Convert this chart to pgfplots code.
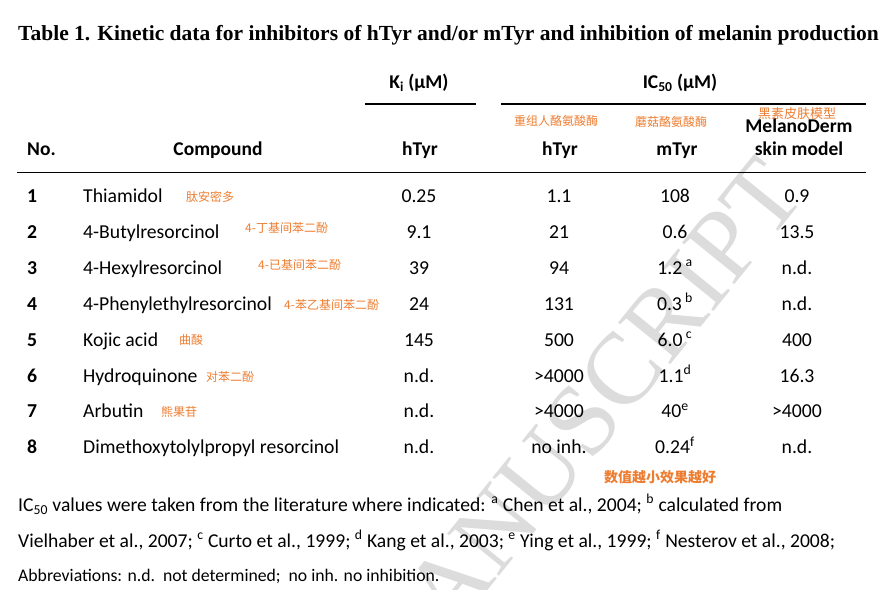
\documentclass[border=0pt]{standalone}
\usepackage{pgfplots}
\pgfplotsset{compat=1.18}
\usepackage{fontspec}
\setmainfont{Carlito}
\newfontfamily\tnr{Liberation Serif}
\newfontfamily\cjk{Noto Sans CJK SC}
\definecolor{cnor}{RGB}{237,125,49}
\definecolor{wm}{RGB}{220,220,220}
\newcommand\fs[1]{\fontsize{#1bp}{#1bp}\selectfont}
\begin{document}
\begin{tikzpicture}
\useasboundingbox (0,0) rectangle (890bp,590bp);
\begin{axis}[
  at={(0,0)}, anchor=south west,
  width=890bp, height=590bp, scale only axis,
  xmin=0, xmax=890, ymin=0, ymax=590, y dir=reverse,
  axis lines=none, clip=false,
  tablecell/.style={only marks, mark=none, nodes near coords,
     point meta=explicit symbolic,
     every node near coord/.style={inner sep=0pt, text=black, font=\fs{19.7}, anchor=base}},
]
% watermark
\node[rotate=51, anchor=base east, text=wm, font=\tnr\fs{102}, inner sep=0pt] at (axis cs:808,195) {ACCEPTED MANUSCRIPT};

% title
\node[anchor=base west, inner sep=0pt, font=\tnr\bfseries\fs{21.5}] at (axis cs:18,40) {Table 1. Kinetic data for inhibitors of hTyr and/or mTyr and inhibition of melanin production};

% group headers
\node[anchor=base, inner sep=0pt, font=\bfseries\fs{19.5}] at (axis cs:419,88) {K\textsubscript{i} (µM)};
\node[anchor=base, inner sep=0pt, font=\bfseries\fs{19.5}] at (axis cs:680,88) {IC\textsubscript{50} (µM)};
\addplot[black, line width=1.2bp] coordinates {(365,104) (476,104)};
\addplot[black, line width=1.2bp] coordinates {(501,104) (866,104)};

% chinese column notes
\node[anchor=base, inner sep=0pt, font=\cjk\fs{12}, text=cnor] at (axis cs:556,125) {重组人酪氨酸酶};
\node[anchor=base, inner sep=0pt, font=\cjk\fs{12}, text=cnor] at (axis cs:671,126) {蘑菇酪氨酸酶};
\node[anchor=base, inner sep=0pt, font=\cjk\fs{13}, text=cnor] at (axis cs:797,118) {黑素皮肤模型};

% column headers
\node[anchor=base, inner sep=0pt, font=\bfseries\fs{19.5}] at (axis cs:799,132) {MelanoDerm};
\node[anchor=base west, inner sep=0pt, font=\bfseries\fs{19.5}] at (axis cs:27,155) {No.};
\node[anchor=base, inner sep=0pt, font=\bfseries\fs{19.5}] at (axis cs:218,155) {Compound};
\node[anchor=base, inner sep=0pt, font=\bfseries\fs{19.5}] at (axis cs:420,155) {hTyr};
\node[anchor=base, inner sep=0pt, font=\bfseries\fs{19.5}] at (axis cs:560,155) {hTyr};
\node[anchor=base, inner sep=0pt, font=\bfseries\fs{19.5}] at (axis cs:677,155) {mTyr};
\node[anchor=base, inner sep=0pt, font=\bfseries\fs{19.5}] at (axis cs:799,155) {skin model};
\addplot[black, line width=1.2bp] coordinates {(17,172.5) (866,172.5)};

% No. column
\addplot[tablecell, every node near coord/.append style={anchor=base west, font=\bfseries\fs{19.7}}] coordinates {
 (27,202.5) [1] (27,238.4) [2] (27,274.3) [3] (27,310.2) [4]
 (27,346.1) [5] (27,382.0) [6] (27,417.9) [7] (27,453.8) [8]};
% Compound
\addplot[tablecell, every node near coord/.append style={anchor=base west}] coordinates {
 (83,202.5) [Thiamidol] (83,238.4) [4-Butylresorcinol] (83,274.3) [4-Hexylresorcinol]
 (83,310.2) [4-Phenylethylresorcinol] (83,346.1) [Kojic acid] (83,382.0) [Hydroquinone]
 (83,417.9) [Arbutin] (83,453.8) [Dimethoxytolylpropyl resorcinol]};
% Ki hTyr
\addplot[tablecell] coordinates {
 (419,202.5) [0.25] (419,238.4) [9.1] (419,274.3) [39] (419,310.2) [24]
 (419,346.1) [145] (419,382.0) [n.d.] (419,417.9) [n.d.] (419,453.8) [n.d.]};
% IC50 hTyr
\addplot[tablecell] coordinates {
 (559,202.5) [1.1] (559,238.4) [21] (559,274.3) [94] (559,310.2) [131]
 (559,346.1) [500] (559,382.0) [>4000] (559,417.9) [>4000] (559,453.8) [no inh.]};
% IC50 mTyr
\addplot[tablecell] coordinates {
 (675,202.5) [108] (675,238.4) [0.6] (675,274.3) [1.2\,\textsuperscript{a}] (675,310.2) [0.3\,\textsuperscript{b}]
 (675,346.1) [6.0\,\textsuperscript{c}] (675,382.0) [1.1\textsuperscript{d}] (675,417.9) [40\textsuperscript{e}] (675,453.8) [0.24\textsuperscript{f}]};
% MelanoDerm
\addplot[tablecell] coordinates {
 (797,202.5) [0.9] (797,238.4) [13.5] (797,274.3) [n.d.] (797,310.2) [n.d.]
 (797,346.1) [400] (797,382.0) [16.3] (797,417.9) [>4000] (797,453.8) [n.d.]};

% chinese row notes
\node[anchor=base west, inner sep=0pt, font=\cjk\fs{12}, text=cnor] at (axis cs:186,201) {肽安密多};
\node[anchor=base west, inner sep=0pt, font=\cjk\fs{12}, text=cnor] at (axis cs:245,232) {4-丁基间苯二酚};
\node[anchor=base west, inner sep=0pt, font=\cjk\fs{12}, text=cnor] at (axis cs:258,269.5) {4-已基间苯二酚};
\node[anchor=base west, inner sep=0pt, font=\cjk\fs{12}, text=cnor] at (axis cs:284,309.5) {4-苯乙基间苯二酚};
\node[anchor=base west, inner sep=0pt, font=\cjk\fs{12}, text=cnor] at (axis cs:179,344.5) {曲酸};
\node[anchor=base west, inner sep=0pt, font=\cjk\fs{12}, text=cnor] at (axis cs:206,381) {对苯二酚};
\node[anchor=base west, inner sep=0pt, font=\cjk\fs{12}, text=cnor] at (axis cs:161,416) {熊果苷};
\node[anchor=base, inner sep=0pt, font=\cjk\bfseries\fs{14}, text=cnor] at (axis cs:660,482) {数值越小效果越好};

% footnotes
\node[anchor=base west, inner sep=0pt, font=\fs{19.6}] at (axis cs:18,511) {IC\textsubscript{50} values were taken from the literature where indicated: \textsuperscript{a} Chen et al., 2004; \textsuperscript{b} calculated from};
\node[anchor=base west, inner sep=0pt, font=\fs{19.6}] at (axis cs:18,547) {Vielhaber et al., 2007; \textsuperscript{c} Curto et al., 1999; \textsuperscript{d} Kang et al., 2003; \textsuperscript{e} Ying et al., 1999; \textsuperscript{f} Nesterov et al., 2008;};
\node[anchor=base west, inner sep=0pt, font=\fs{17.7}] at (axis cs:18,581) {Abbreviations: n.d.\ \ not determined;\ \ no inh. no inhibition.};
\end{axis}
\end{tikzpicture}
\end{document}
